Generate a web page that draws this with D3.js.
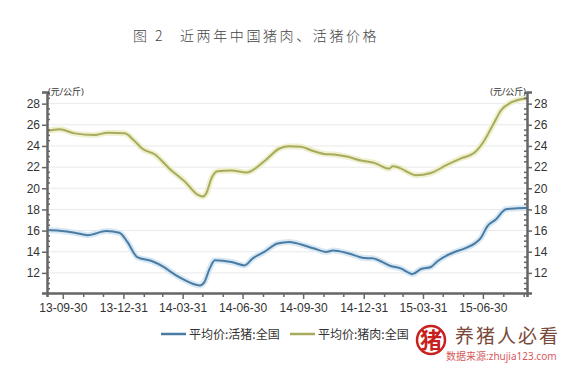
<!DOCTYPE html>
<html>
<head>
<meta charset="utf-8">
<script src="https://cdn.jsdelivr.net/npm/d3@7.9.0/dist/d3.min.js"></script>
<style>
  body { margin: 0; background: #fff; }
  svg { display: block; font-family: "Noto Sans", "Noto Sans CJK SC", sans-serif; }
</style>
</head>
<body>
<svg id="chart" width="573" height="370"></svg>
<script>
// live hog price (平均价:活猪:全国), yuan/kg
let hogData = [
  ['2013-09-06', 16.05], ['2013-09-25', 15.98], ['2013-10-18', 15.8], ['2013-11-07', 15.57],
  ['2013-12-05', 15.95], ['2013-12-25', 15.79], ['2014-01-06', 14.93], ['2014-01-21', 13.5],
  ['2014-02-12', 13.12], ['2014-03-04', 12.5], ['2014-03-13', 12.1], ['2014-03-30', 11.45],
  ['2014-04-26', 10.81], ['2014-05-03', 11.13], ['2014-05-11', 12.4], ['2014-05-19', 13.19],
  ['2014-06-13', 13.03], ['2014-07-03', 12.71], ['2014-07-15', 13.35], ['2014-08-02', 13.98],
  ['2014-08-22', 14.78], ['2014-09-09', 14.93], ['2014-09-27', 14.68], ['2014-10-17', 14.3],
  ['2014-11-04', 13.98], ['2014-11-14', 14.11], ['2014-12-07', 13.86], ['2015-01-01', 13.41],
  ['2015-01-13', 13.38], ['2015-02-10', 12.65], ['2015-02-26', 12.4], ['2015-03-10', 12.0],
  ['2015-03-15', 11.89], ['2015-03-28', 12.37], ['2015-04-12', 12.56], ['2015-04-22', 13.1],
  ['2015-05-17', 13.95], ['2015-06-01', 14.27], ['2015-06-19', 14.84], ['2015-06-27', 15.32],
  ['2015-07-07', 16.43], ['2015-07-20', 17.07], ['2015-08-04', 18.02], ['2015-08-22', 18.1],
  ['2015-09-05', 18.15]
];

// pork price (平均价:猪肉:全国), yuan/kg
let porkData = [
  ['2013-09-06', 25.41], ['2013-09-25', 25.57], ['2013-10-18', 25.19], ['2013-11-17', 25.03],
  ['2013-12-07', 25.25], ['2014-01-02', 25.19], ['2014-01-17', 24.46], ['2014-01-29', 23.73],
  ['2014-02-17', 23.19], ['2014-03-11', 21.85], ['2014-04-03', 20.65], ['2014-04-23', 19.38],
  ['2014-04-30', 19.22], ['2014-05-06', 19.54], ['2014-05-14', 20.97], ['2014-05-23', 21.6],
  ['2014-06-13', 21.67], ['2014-07-06', 21.5], ['2014-08-02', 22.55], ['2014-08-25', 23.76],
  ['2014-09-09', 23.98], ['2014-09-27', 23.92], ['2014-10-12', 23.6], ['2014-11-01', 23.25],
  ['2014-11-16', 23.19], ['2014-12-07', 22.97], ['2014-12-27', 22.62], ['2015-01-16', 22.4],
  ['2015-02-08', 21.86], ['2015-02-13', 22.08], ['2015-02-26', 21.86], ['2015-03-10', 21.45],
  ['2015-03-20', 21.22], ['2015-04-12', 21.44], ['2015-05-07', 22.24], ['2015-05-27', 22.81],
  ['2015-06-17', 23.35], ['2015-06-30', 24.3], ['2015-07-15', 25.95], ['2015-07-28', 27.4],
  ['2015-08-12', 28.11], ['2015-09-05', 28.52]
];

let yTicks = [12, 14, 16, 18, 20, 22, 24, 26, 28];
let xTickLabels = ['13-09-30', '13-12-31', '14-03-31', '14-06-30', '14-09-30', '14-12-31', '15-03-31', '15-06-30'];
let seriesNames = ['平均价:活猪:全国', '平均价:猪肉:全国'];
let seriesColors = ['#4a7ba3', '#a8ab5b'];
let glowColors = ['#d7e8f4', '#eef0cf'];

let parse = d3.timeParse('%Y-%m-%d');
let fmt = d3.timeFormat('%y-%m-%d');

let svg = d3.select('#chart');
let plotLeft = 47, plotRight = 527, plotTop = 92, plotBottom = 293;

let x = d3.scaleTime()
  .domain([parse('2013-09-06'), parse('2015-09-05')])
  .range([plotLeft, plotRight]);
let y = d3.scaleLinear().domain([10.1, 29.1]).range([plotBottom, plotTop]);

// title, two parts with the wide gap of the original
let titleFont = '"Noto Sans CJK SC", sans-serif';
svg.append('text')
  .attr('x', 133).attr('y', 41)
  .attr('font-family', titleFont).attr('font-size', 14).attr('font-weight', 300)
  .attr('letter-spacing', 2.5).attr('fill', '#444')
  .attr('xml:space', 'preserve').style('white-space', 'pre')
  .text('图 2');
svg.append('text')
  .attr('x', 180).attr('y', 41)
  .attr('font-family', titleFont).attr('font-size', 14).attr('font-weight', 300)
  .attr('letter-spacing', 2.6).attr('fill', '#444')
  .text('近两年中国猪肉、活猪价格');

// grid
svg.append('g').selectAll('line').data(yTicks).join('line')
  .attr('x1', plotLeft).attr('x2', plotRight)
  .attr('y1', (d) => y(d)).attr('y2', (d) => y(d))
  .attr('stroke', '#e9e9e9').attr('stroke-width', 1);

// lines
let line = d3.line()
  .x((d) => x(parse(d[0])))
  .y((d) => y(d[1]))
  .curve(d3.curveMonotoneX);

[hogData, porkData].forEach((data, i) => {
  svg.append('path').attr('d', line(data))
    .attr('fill', 'none').attr('stroke', glowColors[i]).attr('stroke-width', 6);
});
[hogData, porkData].forEach((data, i) => {
  svg.append('path').attr('d', line(data))
    .attr('fill', 'none').attr('stroke', seriesColors[i]).attr('stroke-width', 2);
});

// axes
let axisColor = '#666';
let minor = d3.range(10.5, 29.01, 0.5).filter((v) => v % 2 !== 0);

let yl = svg.append('g').attr('transform', `translate(${plotLeft},0)`)
  .call(d3.axisLeft(y).tickValues(yTicks).tickSize(5).tickPadding(2));
let yr = svg.append('g').attr('transform', `translate(${plotRight},0)`)
  .call(d3.axisRight(y).tickValues(yTicks).tickSize(5).tickPadding(2));
[yl, yr].forEach((g) => {
  g.select('.domain').attr('stroke', axisColor).attr('stroke-width', 2.5);
  g.selectAll('.tick line').attr('stroke', axisColor).attr('stroke-width', 1.5);
  g.selectAll('.tick text').attr('font-size', 12).attr('fill', '#333');
});
svg.append('g').selectAll('line').data(minor).join('line')
  .attr('x1', plotLeft).attr('x2', plotLeft + 3)
  .attr('y1', (d) => y(d)).attr('y2', (d) => y(d))
  .attr('stroke', axisColor).attr('stroke-width', 1.5);
svg.append('g').selectAll('line').data(minor).join('line')
  .attr('x1', plotRight - 3).attr('x2', plotRight)
  .attr('y1', (d) => y(d)).attr('y2', (d) => y(d))
  .attr('stroke', axisColor).attr('stroke-width', 1.5);

// month-end ticks, labels at quarter ends
let monthEnds = d3.timeMonth.range(new Date(2013, 9, 1), new Date(2015, 9, 1))
  .map((d) => d3.timeDay.offset(d, -1));
let xa = svg.append('g').attr('transform', `translate(0,${plotBottom})`)
  .call(d3.axisBottom(x).tickValues(monthEnds).tickSize(4).tickPadding(6)
    .tickFormat((d) => (xTickLabels.includes(fmt(d)) ? fmt(d) : '')));
xa.select('.domain').attr('stroke', axisColor).attr('stroke-width', 2.5);
xa.selectAll('.tick line').attr('stroke', axisColor).attr('stroke-width', 1.5)
  .attr('y2', (d) => (xTickLabels.includes(fmt(d)) ? 6 : 4));
xa.selectAll('.tick text').attr('font-size', 12).attr('fill', '#333');

// units
svg.append('text').attr('x', plotLeft + 1).attr('y', 95)
  .attr('font-size', 9).attr('fill', '#333').text('(元/公斤)');
svg.append('text').attr('x', plotRight - 1).attr('y', 95).attr('text-anchor', 'end')
  .attr('font-size', 9).attr('fill', '#333').text('(元/公斤)');

// legend
let legendX = [161, 290];
seriesNames.forEach((name, i) => {
  let g = svg.append('g').attr('transform', `translate(${legendX[i]},334)`);
  g.append('line').attr('x1', 0).attr('x2', 25).attr('y1', 0).attr('y2', 0)
    .attr('stroke', seriesColors[i]).attr('stroke-width', 2.5);
  g.append('text').attr('x', 28).attr('y', 4.5)
    .attr('font-family', '"Noto Sans CJK SC", sans-serif')
    .attr('font-size', 12).attr('fill', '#333').text(name);
});

// watermark
let wm = svg.append('g');
wm.append('circle').attr('cx', 431).attr('cy', 340).attr('r', 14)
  .attr('fill', 'none').attr('stroke', '#c8201c').attr('stroke-width', 2.5);
wm.append('text').attr('x', 431).attr('y', 348).attr('text-anchor', 'middle')
  .attr('font-family', '"Noto Sans CJK SC", sans-serif').attr('font-weight', 700)
  .attr('font-size', 22).attr('fill', '#c8201c').text('猪');
wm.append('text').attr('x', 455).attr('y', 343)
  .attr('font-family', '"Noto Sans CJK SC", sans-serif')
  .attr('font-size', 19).attr('letter-spacing', 2).attr('fill', '#7a4a3a').text('养猪人必看');
wm.append('text').attr('x', 446).attr('y', 360)
  .attr('font-size', 10).attr('fill', '#c8201c').attr('opacity', 0.75).text('数据来源:zhujia123.com');
</script>
</body>
</html>
